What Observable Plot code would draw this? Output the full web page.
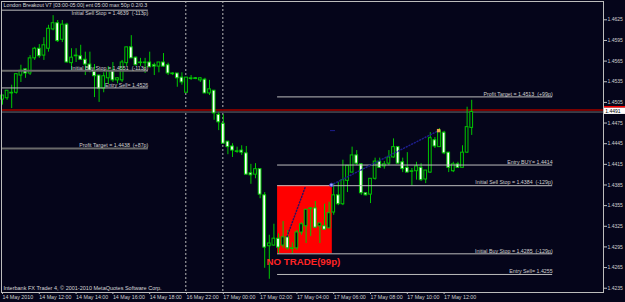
<!DOCTYPE html>
<html><head><meta charset="utf-8">
<script src="https://cdn.jsdelivr.net/npm/d3@7"></script>
<script src="https://cdn.jsdelivr.net/npm/@observablehq/plot@0.6"></script>
<style>html,body{margin:0;padding:0;background:#05051a;overflow:hidden}</style>
</head><body><div id="chart"></div>
<script>
// ---- data (EURUSD-like M15 bars, index 0 = 14 May 2010 10:00) ----
const open  = [1.4509,1.4511,1.4519,1.4519,1.4544,1.4553,1.4547,1.4569,1.4583,1.4573,1.4583,1.4611,1.4620,1.4596,1.4618,1.4562,1.4573,1.4572,1.4567,1.4560,1.4550,1.4544,1.4525,1.4540,1.4551,1.4537,1.4537,1.4562,1.4585,1.4570,1.4563,1.4562,1.4563,1.4559,1.4557,1.4563,1.4559,1.4546,1.4547,1.4541,1.4519,1.4539,1.4540,1.4537,1.4538,1.4518,1.4522,1.4487,1.4474,1.4448,1.4441,1.4433,1.4435,1.4431,1.4402,1.4400,1.4408,1.4370,1.4296,1.4297,1.4307,1.4297,1.4309,1.4292,1.4293,1.4316,1.4325,1.4350,1.4351,1.4325,1.4325,1.4322,1.4345,1.4370,1.4357,1.4391,1.4403,1.4428,1.4415,1.4373,1.4371,1.4394,1.4419,1.4412,1.4416,1.4425,1.4440,1.4418,1.4410,1.4404,1.4405,1.4410,1.4393,1.4403,1.4450,1.4440,1.4461,1.4432,1.4405,1.4415,1.4410,1.4432,1.4468];
const high  = [1.4515,1.4522,1.4530,1.4547,1.4559,1.4554,1.4573,1.4585,1.4589,1.4599,1.4617,1.4631,1.4624,1.4624,1.4620,1.4583,1.4583,1.4588,1.4578,1.4578,1.4560,1.4544,1.4548,1.4557,1.4563,1.4541,1.4566,1.4585,1.4602,1.4571,1.4569,1.4569,1.4578,1.4562,1.4563,1.4576,1.4562,1.4548,1.4547,1.4548,1.4541,1.4544,1.4541,1.4541,1.4540,1.4537,1.4522,1.4490,1.4487,1.4448,1.4445,1.4440,1.4442,1.4441,1.4415,1.4416,1.4408,1.4374,1.4312,1.4328,1.4314,1.4332,1.4319,1.4301,1.4319,1.4330,1.4349,1.4352,1.4361,1.4329,1.4357,1.4360,1.4387,1.4389,1.4421,1.4413,1.4440,1.4435,1.4416,1.4374,1.4394,1.4424,1.4424,1.4419,1.4435,1.4452,1.4441,1.4424,1.4432,1.4409,1.4418,1.4416,1.4406,1.4461,1.4454,1.4467,1.4463,1.4432,1.4418,1.4418,1.4442,1.4498,1.4508];
const low   = [1.4501,1.4508,1.4496,1.4517,1.4534,1.4540,1.4544,1.4566,1.4569,1.4566,1.4578,1.4609,1.4592,1.4592,1.4562,1.4551,1.4563,1.4566,1.4544,1.4548,1.4512,1.4505,1.4519,1.4531,1.4534,1.4532,1.4534,1.4557,1.4569,1.4558,1.4557,1.4547,1.4556,1.4544,1.4548,1.4556,1.4544,1.4544,1.4527,1.4530,1.4519,1.4537,1.4538,1.4534,1.4518,1.4515,1.4479,1.4464,1.4445,1.4429,1.4425,1.4431,1.4428,1.4400,1.4386,1.4394,1.4365,1.4264,1.4248,1.4296,1.4285,1.4293,1.4290,1.4285,1.4290,1.4312,1.4300,1.4310,1.4322,1.4300,1.4319,1.4322,1.4341,1.4355,1.4355,1.4374,1.4403,1.4413,1.4370,1.4369,1.4358,1.4392,1.4409,1.4408,1.4413,1.4424,1.4416,1.4403,1.4403,1.4384,1.4392,1.4390,1.4387,1.4402,1.4438,1.4440,1.4429,1.4403,1.4403,1.4409,1.4410,1.4431,1.4457];
const close = [1.4515,1.4522,1.4518,1.4546,1.4551,1.4547,1.4569,1.4583,1.4572,1.4588,1.4612,1.4620,1.4594,1.4618,1.4563,1.4570,1.4572,1.4567,1.4560,1.4551,1.4543,1.4525,1.4543,1.4551,1.4537,1.4540,1.4563,1.4585,1.4569,1.4559,1.4562,1.4563,1.4556,1.4557,1.4563,1.4557,1.4547,1.4547,1.4540,1.4534,1.4541,1.4540,1.4539,1.4540,1.4518,1.4524,1.4489,1.4476,1.4445,1.4440,1.4435,1.4434,1.4432,1.4400,1.4399,1.4408,1.4371,1.4294,1.4300,1.4307,1.4294,1.4309,1.4293,1.4293,1.4316,1.4328,1.4349,1.4351,1.4323,1.4329,1.4320,1.4344,1.4370,1.4357,1.4392,1.4413,1.4428,1.4416,1.4373,1.4370,1.4394,1.4419,1.4410,1.4415,1.4425,1.4440,1.4416,1.4408,1.4403,1.4405,1.4412,1.4392,1.4406,1.4453,1.4441,1.4464,1.4431,1.4410,1.4415,1.4410,1.4432,1.4469,1.4491];

const xTickBars   = [0,8,16,24,32,40,48,56,64,72,80,88,96];
const xTickLabels = ["14 May 2010","14 May 12:00","14 May 14:00","14 May 16:00","14 May 18:00","16 May 22:00","17 May 00:00","17 May 02:00","17 May 04:00","17 May 06:00","17 May 08:00","17 May 10:00","17 May 12:00"];
const yTicks = [1.4625,1.4595,1.4565,1.4535,1.4505,1.4475,1.4445,1.4415,1.4385,1.4355,1.4325,1.4295,1.4265,1.4235];

const separatorBars = [39.85, 47.9];

const levelTexts  = ["Initial Sell Stop = 1.4639  (-113p)","Initial Buy Stop = 1.4551  (-113p)","Entry Sell= 1.4526","Profit Target = 1.4438  (+87p)","Profit Target = 1.4513  (+99p)","Entry BUY= 1.4414","Initial Sell Stop = 1.4384  (-129p)","Initial Buy Stop = 1.4285  (-129p)","Entry Sell= 1.4255"];
const levelPrices = [1.4639,1.4551,1.4526,1.4438,1.4513,1.4414,1.4384,1.4285,1.4255];
const levelFrom   = [-0.2,-0.2,-0.2,-0.2,59.8,59.8,59.8,59.8,59.8];
const levelTo     = [31.7,31.7,31.7,31.7,119.6,119.6,119.6,119.6,119.6];

const askPrice = 1.4494;
const bidPrice = 1.4491;

const boxFrom = 59.8, boxTo = 71.7, boxTop = 1.4384, boxBottom = 1.4285;
const tradeLineX = [71.5, 94.8];
const tradeLineY = [1.4385, 1.4464];
const innerLineX = [61.85, 65.87];
const innerLineY = [1.4310, 1.4383];

const titleText = "London Breakout V7 |03:00-05:00| ent 05:00 max 50p 0.2/0.3";
const brokerText = "Interbank FX Trader 4, \u00a9 2001-2010 MetaQuotes Software Corp.";
const noTradeText = "NO TRADE(99p)";

// ---- build ----
const BG = "#05051a";
const GREEN = "#00c800";
const candles = open.map((o, i) => ({i, o, h: high[i], l: low[i], c: close[i], bull: close[i] > o}));
const levels = levelTexts.map((t, k) => ({t, p: levelPrices[k], a: levelFrom[k], b: levelTo[k], k}));
const heavy = new Set([1, 3]);
const xMax = 130.65;
const labelMap = new Map(xTickBars.map((b, k) => [b, xTickLabels[k]]));
const font = "Liberation Sans, Arial, sans-serif";

const chart = Plot.plot({
  width: 625, height: 302,
  marginLeft: 1, marginRight: 22, marginTop: 1, marginBottom: 10,
  style: {background: BG, color: "#d0d0d0", fontFamily: font, fontSize: "5.3px", overflow: "visible"},
  x: {domain: [-0.217, xMax]},
  y: {domain: [1.42288, 1.46516]},
  marks: [
    Plot.rect([0], {x1: () => boxFrom, x2: () => boxTo, y1: () => boxBottom, y2: () => boxTop, fill: "#ff0000"}),
    Plot.ruleX(separatorBars, {x: d => d, stroke: "#b8b8b8", strokeDasharray: "2,2"}),
    Plot.ruleY([askPrice], {y: d => d, stroke: "#7a0000", strokeWidth: 2}),
    Plot.ruleY([bidPrice], {y: d => d, stroke: "#6e6e6e"}),
    Plot.ruleX(candles, {x: "i", y1: "l", y2: "h", stroke: GREEN}),
    Plot.rect(candles, {x1: d => d.i - 0.3, x2: d => d.i + 0.3, y1: d => Math.min(d.o, d.c), y2: d => Math.max(d.o, d.c),
      fill: d => d.bull ? BG : "#ffffff", stroke: GREEN, strokeWidth: 1}),
    Plot.ruleY(levels, {y: "p", x1: "a", x2: "b", stroke: d => heavy.has(d.k) ? "#6a6a6a" : "#bdbdbd", strokeWidth: d => heavy.has(d.k) ? 2 : 1}),
    Plot.text(levels.filter(d => d.k !== 0), {x: "b", y: "p", text: "t", textAnchor: "end", lineAnchor: "bottom", dy: -1.2, fill: "#cfcfcf", fontSize: 5.3}),
    Plot.text(levels.filter(d => d.k === 0), {x: "b", y: "p", text: "t", textAnchor: "end", lineAnchor: "top", dy: 1.2, fill: "#cfcfcf", fontSize: 5.3}),
    Plot.line(tradeLineX.map((x, k) => ({x, y: tradeLineY[k]})), {x: "x", y: "y", stroke: "#1e1e8c", strokeDasharray: "1,2"}),
    Plot.line(innerLineX.map((x, k) => ({x, y: innerLineY[k]})), {x: "x", y: "y", stroke: "#301060", strokeDasharray: "1,2"}),
    Plot.ruleY([tradeLineY[1]], {y: d => d, x1: () => 71.3, x2: () => 72.4, stroke: "#1e1e8c"}),
    Plot.dot([0], {x: () => tradeLineX[0], y: () => tradeLineY[0], r: 1.8, fill: "#a0a0ff", stroke: "#3030c0", strokeWidth: 0.8}),
    Plot.dot([0], {x: () => tradeLineX[1], y: () => tradeLineY[1], r: 1.9, symbol: "square", fill: "#e8a848"}),
    Plot.text([noTradeText], {x: () => 57.4, y: () => 1.4273, text: d => d, textAnchor: "start", fill: "#ff2424", fontWeight: "bold", fontSize: 9.7, fontFamily: font}),
    Plot.text([titleText], {frameAnchor: "top-left", text: d => d, dx: 2, dy: 1.5, fill: "#d8d8d8", fontSize: 5.3}),
    Plot.text([brokerText], {frameAnchor: "bottom-left", text: d => d, dx: 2, dy: -2.5, fill: "#d8d8d8", fontSize: 5.5}),
    Plot.axisY({anchor: "right", ticks: yTicks, tickFormat: d => d.toFixed(4), tickSize: 3, tickPadding: 1, fontSize: 5, stroke: "#c0c0c0"}),
    Plot.axisX({anchor: "bottom", ticks: xTickBars, tickFormat: d => labelMap.get(d), tickSize: 2, tickPadding: 1, textAnchor: "start", fontSize: 5.3, stroke: "#c0c0c0"}),
    Plot.rect([bidPrice], {x1: () => xMax + 0.15, x2: () => xMax + 5, y1: d => d + 0.00056, y2: d => d + 0.0008, fill: "#ff0000"}),
    Plot.rect([bidPrice], {x1: () => xMax + 0.15, x2: () => xMax + 5, y1: d => d - 0.00035, y2: d => d + 0.00056, fill: "#ffffff"}),
    Plot.text([bidPrice], {x: () => xMax + 0.4, y: d => d + 0.0001, text: d => d.toFixed(4), textAnchor: "start", fill: "#000000", fontSize: 5}),
    Plot.frame({stroke: "#bcbcbc"})
  ]
});
document.getElementById("chart").appendChild(chart);
</script>
</body></html>
